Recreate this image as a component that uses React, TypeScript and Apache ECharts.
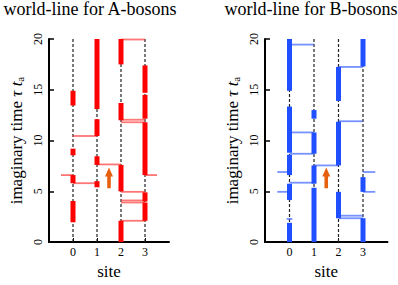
import React, { useEffect, useRef } from 'react';
import * as echarts from 'echarts';

const FONT = 'Liberation Serif';

const sites = [0, 1, 2, 3];
const titles = ['world-line for A-bosons', 'world-line for B-bosons'];

// thick world-line segments: [site, tauFrom, tauTo]
const aSegments = [
  [0, 13.45, 14.9], [0, 8.55, 9.2], [0, 5.8, 6.6], [0, 1.95, 4.05],
  [1, 13.1, 20], [1, 10.45, 12.1], [1, 7.6, 8.45], [1, 5.4, 6.0],
  [2, 17.5, 20], [2, 12.0, 13.7], [2, 5.0, 7.6], [2, 0, 2.1],
  [3, 14.7, 17.4], [3, 12.15, 14.5], [3, 6.6, 11.8], [3, 4.0, 4.9], [3, 2.1, 3.9],
];
// hopping lines: [siteFrom, siteTo, tau]
const aHops = [
  [2, 3, 19.95], [2, 3, 12.05], [2, 3, 11.8], [0, 1, 10.45], [1, 2, 7.65],
  [-0.5, 0, 6.6], [3, 3.5, 6.6], [0, 1, 5.8], [2, 3, 4.95], [2, 3, 4.1], [2, 3, 3.9], [2, 3, 2.1],
];

const bSegments = [
  [0, 14.9, 20], [0, 8.8, 13.35], [0, 6.6, 8.6], [0, 4.15, 5.75], [0, 0, 1.9],
  [1, 12.15, 13.0], [1, 8.7, 10.8], [1, 5.75, 7.55], [1, 0, 5.35],
  [2, 13.9, 17.25], [2, 7.55, 11.85], [2, 2.35, 4.95],
  [3, 17.3, 20], [3, 4.95, 6.4], [3, 0, 2.35],
];
const bHops = [
  [0, 1, 19.45], [2, 3, 17.25], [2, 3, 11.9], [0, 1, 10.8], [0, 1, 8.7],
  [1, 2, 7.55], [-0.5, 0, 6.9], [3, 3.5, 6.9], [0, 1, 5.85],
  [-0.5, 0, 4.95], [3, 3.5, 4.95], [2, 3, 2.6], [2, 3, 2.35], [-0.12, 0.12, 2.28],
];

// arrow: [site, tauFrom, tauTo]
const arrows = [[1.5, 5.3, 7.35]];

const panels = [
  { segments: aSegments, hops: aHops, thick: '#ff0000', thin: 'rgba(255,60,60,0.7)' },
  { segments: bSegments, hops: bHops, thick: '#1f4fff', thin: 'rgba(60,100,255,0.7)' },
];

const grids = [
  { left: 49, top: 39, width: 120, height: 205 },
  { left: 265, top: 39, width: 122.5, height: 205 },
];

function buildOption() {
  const series: any[] = [];
  panels.forEach((p, i) => {
    series.push({
      type: 'custom',
      xAxisIndex: i,
      yAxisIndex: i,
      silent: true,
      z: 1,
      data: sites.map((s) => [s, 0, 20]),
      renderItem: (params: any, api: any) => {
        const a = api.coord([api.value(0), api.value(1)]);
        const b = api.coord([api.value(0), api.value(2)]);
        return {
          type: 'line',
          shape: { x1: a[0], y1: a[1], x2: b[0], y2: b[1] },
          style: { stroke: '#222', lineWidth: 1.2, lineDash: [3, 2] },
        };
      },
    });
    series.push({
      type: 'custom',
      xAxisIndex: i,
      yAxisIndex: i,
      silent: true,
      z: 2,
      data: p.hops,
      renderItem: (params: any, api: any) => {
        const a = api.coord([api.value(0), api.value(2)]);
        const b = api.coord([api.value(1), api.value(2)]);
        return {
          type: 'line',
          shape: { x1: a[0], y1: a[1], x2: b[0], y2: b[1] },
          style: { stroke: p.thin, lineWidth: 1.8 },
        };
      },
    });
    series.push({
      type: 'custom',
      xAxisIndex: i,
      yAxisIndex: i,
      silent: true,
      z: 3,
      data: p.segments,
      renderItem: (params: any, api: any) => {
        const a = api.coord([api.value(0), api.value(1)]);
        const b = api.coord([api.value(0), api.value(2)]);
        return {
          type: 'line',
          shape: { x1: a[0], y1: a[1], x2: b[0], y2: b[1] },
          style: { stroke: p.thick, lineWidth: 5 },
        };
      },
    });
    series.push({
      type: 'custom',
      xAxisIndex: i,
      yAxisIndex: i,
      silent: true,
      z: 4,
      data: arrows,
      renderItem: (params: any, api: any) => {
        const top = api.coord([api.value(0), api.value(2)]);
        const bot = api.coord([api.value(0), api.value(1)]);
        const x = top[0];
        const headH = 9;
        const hw = 4;
        const sw = 1.8;
        return {
          type: 'polygon',
          shape: {
            points: [
              [x, top[1]],
              [x + hw, top[1] + headH],
              [x + sw, top[1] + headH],
              [x + sw, bot[1]],
              [x - sw, bot[1]],
              [x - sw, top[1] + headH],
              [x - hw, top[1] + headH],
            ],
          },
          style: { fill: '#e5600f' },
        };
      },
    });
  });

  return {
    animation: false,
    backgroundColor: '#fff',
    title: titles.map((t, i) => ({
      text: t,
      left: i === 0 ? 90 : 311,
      top: 0,
      padding: 0,
      textAlign: 'center',
      textStyle: { fontFamily: FONT, fontSize: 18, fontWeight: 'normal', color: '#000' },
    })),
    grid: grids,
    xAxis: grids.map((g, i) => ({
      gridIndex: i,
      type: 'value',
      min: -1,
      max: 4,
      interval: 1,
      name: 'site',
      nameLocation: 'middle',
      nameGap: 20,
      nameTextStyle: { fontFamily: FONT, fontSize: 17, color: '#000' },
      axisLine: { show: true, lineStyle: { color: '#000', width: 2 } },
      axisTick: { show: true, inside: true, length: 4, customValues: sites, lineStyle: { color: '#000' } },
      axisLabel: { customValues: sites, fontFamily: FONT, fontSize: 12, color: '#000', margin: 4 },
      splitLine: { show: false },
    })),
    yAxis: grids.map((g, i) => ({
      gridIndex: i,
      type: 'value',
      min: 0,
      max: 20,
      interval: 5,
      name: 'imaginary time {it|τ t}{sub|a}',
      nameLocation: 'middle',
      nameRotate: 90,
      nameGap: 24,
      nameTextStyle: {
        fontFamily: FONT,
        fontSize: 17,
        color: '#000',
        rich: {
          it: { fontFamily: FONT, fontSize: 17, fontStyle: 'italic', color: '#000' },
          sub: { fontFamily: FONT, fontSize: 11, color: '#000', padding: [7, 0, 0, 0] },
        },
      },
      axisLine: { show: true, onZero: false, lineStyle: { color: '#000', width: 2 } },
      axisTick: { show: true, inside: true, length: 5, lineStyle: { color: '#000', width: 1.5 } },
      axisLabel: { rotate: 90, fontFamily: FONT, fontSize: 12, color: '#000', margin: 5 },
      splitLine: { show: false },
    })),
    series,
  };
}

export default function App() {
  const ref = useRef<HTMLDivElement>(null);
  useEffect(() => {
    document.body.style.margin = '0';
    const chart = echarts.init(ref.current!, undefined, { renderer: 'svg' });
    chart.setOption(buildOption() as any);
    return () => chart.dispose();
  }, []);
  return (
    <div
      ref={ref}
      style={{ position: 'absolute', left: 0, top: 0, width: 398, height: 285 }}
    />
  );
}
